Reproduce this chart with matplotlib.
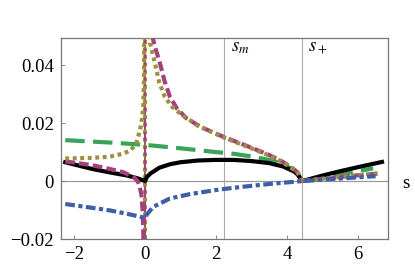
import numpy as np
import matplotlib.pyplot as plt

plt.rcParams["font.family"] = ["Liberation Serif", "DejaVu Serif"]
plt.rcParams["mathtext.fontset"] = "stix"
plt.rcParams["lines.scale_dashes"] = False

# -----------------------------------
# Data
# -----------------------------------

s_m = 2.23
s_plus = 4.43
pole_s = 0.0

# black solid
black_s = [-2.25, -1.5, -1.0, -0.5, -0.2, 0.0, 0.05, 0.15, 0.4, 0.7, 1.0, 1.5, 2.0,
           2.5, 3.0, 3.5, 3.9, 4.2, 4.3, 4.43, 5.0, 5.5, 6.0, 6.68]
black_v = [0.0065, 0.0042, 0.0030, 0.0019, 0.0009, 0.0, 0.0014, 0.0026, 0.0046, 0.0058,
           0.0065, 0.0071, 0.0073, 0.0073, 0.0069, 0.0062, 0.0050, 0.0033, 0.0023, 0.0,
           0.0019, 0.0034, 0.0048, 0.0066]

# green long dashes
green_s = [-2.25, -1.0, 0.0, 1.0, 2.0, 2.5, 3.0, 3.5, 3.8, 4.1, 4.3, 4.43,
           5.0, 5.5, 6.0, 6.43]
green_v = [0.0141, 0.0133, 0.0125, 0.0113, 0.0100, 0.0094, 0.0085, 0.0073, 0.0063,
           0.0045, 0.0027, 0.0, 0.0013, 0.0024, 0.0034, 0.0044]

# purple dashes (pole at s = 0)
purple_left_s = [-2.25, -1.5, -1.0, -0.6, -0.3, -0.2, -0.15, -0.1, -0.07, -0.05, -0.03]
purple_left_v = [0.0068, 0.0055, 0.0042, 0.0030, 0.0012, -0.0002, -0.002, -0.005,
                 -0.010, -0.018, -0.030]
purple_right_s = [0.15, 0.2, 0.3, 0.42, 0.55, 0.7, 0.9, 1.17, 1.6, 2.2, 2.6, 3.04, 3.5,
                  3.8, 4.1, 4.3, 4.43, 5.0, 5.5, 6.0, 6.6]
purple_right_v = [0.060, 0.0500, 0.0455, 0.0406, 0.0345, 0.0291, 0.0250, 0.0216, 0.0185,
                  0.0153, 0.0134, 0.0113, 0.0090, 0.0072, 0.0050, 0.0030, 0.0,
                  0.0008, 0.0014, 0.0020, 0.0026]

# olive dots (pole at s = 0)
olive_left_s = [-2.25, -1.5, -1.0, -0.6, -0.4, -0.25, -0.14, -0.08, -0.05, -0.03, -0.02]
olive_left_v = [0.0078, 0.0080, 0.0084, 0.0095, 0.0107, 0.0130, 0.0176, 0.0220, 0.0260,
                0.0350, 0.0550]
olive_right_s = [0.08, 0.14, 0.28, 0.4, 0.56, 0.75, 1.0, 1.5, 2.2, 3.0, 3.5, 3.8, 4.1,
                 4.3, 4.43, 5.0, 5.5, 6.0, 6.6]
olive_right_v = [0.058, 0.0476, 0.0406, 0.0340, 0.0290, 0.0258, 0.0232, 0.0190, 0.0151,
                 0.0113, 0.0088, 0.0070, 0.0048, 0.0030, 0.0, 0.0008, 0.0014, 0.0020,
                 0.0027]

# blue dash-dot
blue_s = [-2.25, -1.5, -1.0, -0.5, -0.14, 0.0, 0.05, 0.23, 0.7, 1.26, 2.1, 2.8, 3.5,
          4.43, 5.0, 5.5, 6.0, 6.5]
blue_v = [-0.0079, -0.0092, -0.0101, -0.0113, -0.0123, -0.0128, -0.0115, -0.0089,
          -0.0060, -0.0045, -0.0029, -0.0019, -0.0010, 0.0, 0.0005, 0.0009, 0.0013,
          0.0017]

x_ticks = [-2, 0, 2, 4, 6]
x_labels = ["\u22122", "0", "2", "4", "6"]
y_ticks = [-0.02, 0, 0.02, 0.04]
y_labels = ["\u22120.02", "0", "0.02", "0.04"]

# -----------------------------------
# Plot
# -----------------------------------

purple = "#a4407f"
olive = "#9d8f3e"
green = "#3aa35a"
blue = "#3d5ea8"

fig = plt.figure(figsize=(4.15, 2.72), dpi=100)
ax = fig.add_axes([0.147, 0.121, 0.788, 0.740])

ax.axhline(0, color="#999999", lw=0.9, zorder=1)
ax.axvline(s_m, color="#aaaaaa", lw=0.8, zorder=1)
ax.axvline(s_plus, color="#aaaaaa", lw=0.8, zorder=1)

ax.plot(green_s, green_v, color=green, lw=3, dashes=(14, 6), zorder=3)
ax.plot(black_s, black_v, color="black", lw=3, zorder=4)

ax.axvline(pole_s, color="#6f6527", lw=1.3, zorder=2)
ax.axvline(pole_s, color=olive, lw=3, dashes=(2.8, 2.6), zorder=2)
ax.axvline(pole_s, color=purple, lw=1.5, dashes=(7, 3), zorder=2)

ax.plot(purple_left_s, purple_left_v, color=purple, lw=3, dashes=(7, 3), zorder=5)
ax.plot(purple_right_s, purple_right_v, color=purple, lw=3, dashes=(7, 3), zorder=5)
ax.plot(olive_left_s, olive_left_v, color=olive, lw=3, dashes=(2.8, 2.6),
        dash_capstyle="butt", zorder=6)
ax.plot(olive_right_s, olive_right_v, color=olive, lw=3, dashes=(2.8, 2.6),
        dash_capstyle="butt", zorder=6)
ax.plot(blue_s, blue_v, color=blue, lw=3, dashes=(7, 2.5, 3, 2.5), zorder=7)

ax.set_xlim(-2.37, 6.85)
ax.set_ylim(-0.02, 0.0494)

ax.set_xticks(x_ticks)
ax.set_xticklabels(x_labels)
ax.set_yticks(y_ticks)
ax.set_yticklabels(y_labels)
ax.tick_params(direction="in", length=3, width=0.6, color="#777777",
               labelsize=13.5, pad=5)

for sp in ax.spines.values():
    sp.set_color("#777777")
    sp.set_linewidth(0.9)

ax.text(2.42, 0.0462, r"$s_m$", fontsize=13.5, va="center", ha="left")
ax.text(4.58, 0.0462, r"$s_+$", fontsize=13.5, va="center", ha="left")
ax.text(7.25, -0.0008, "s", fontsize=13.5, va="center", ha="left", clip_on=False)

plt.savefig("out.png", dpi=100)
